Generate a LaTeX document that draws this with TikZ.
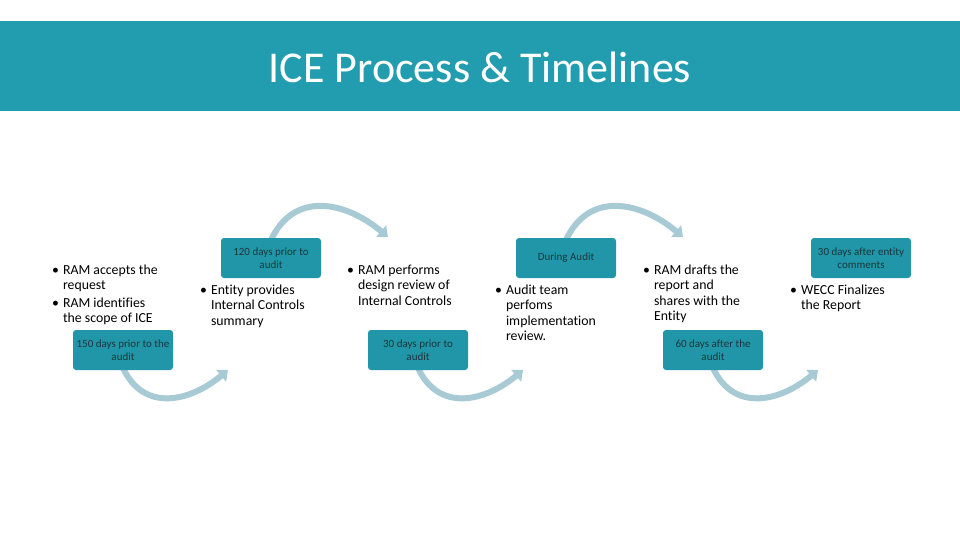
\documentclass[tikz,border=0pt]{standalone}
\usepackage{fontspec}
\setmainfont{Carlito}[Ligatures=NoCommon]
\usetikzlibrary{arrows.meta,backgrounds}
\definecolor{band}{RGB}{33,157,175}
\definecolor{boxfill}{RGB}{33,150,168}
\definecolor{boxtext}{RGB}{25,55,60}
\definecolor{arc}{RGB}{168,202,212}
\begin{document}
\begin{tikzpicture}[x=1pt,y=1pt,
    stage/.style={draw=none,fill=boxfill,rounded corners=3pt,minimum width=100pt,minimum height=40pt,
        inner sep=1pt,align=center,text=boxtext,font=\fontsize{11}{12.5}\selectfont},
    bullets/.style={anchor=north west,inner sep=0pt,font=\fontsize{13.8}{15.5}\selectfont},
    turn/.style={draw=arc,line width=6pt,-{Triangle[width=15pt,length=9pt]},looseness=1.2}]
    \useasboundingbox (0,0) rectangle (960,-540);
    \fill[band] (0,-21) rectangle (960,-111);
    \node[text=white,font=\fontsize{44}{50}\selectfont] (title) at (480,-67) {ICE Process \& Timelines};

    % arrow tips
    \coordinate (t1) at (228,-370);
    \coordinate (t2) at (388,-237);
    \coordinate (t3) at (523,-370);
    \coordinate (t4) at (683,-237);
    \coordinate (t5) at (818,-370);

    % stage boxes
    \node[stage] (d150) at (123,-350) {150 days prior to the\\audit};
    \node[stage] (d120) at (271,-258) {120 days prior to\\audit};
    \node[stage] (d30) at (418,-350) {30 days prior to\\audit};
    \node[stage] (during) at (566,-258) {During Audit};
    \node[stage] (d60) at (713,-350) {60 days after the\\audit};
    \node[stage] (after30) at (861,-258) {30 days after entity\\comments};

    % bullet texts
    \node[bullets] (s1) at (52,-263) {\begin{tabular}{@{}l@{\hspace{4pt}}l@{}}
        \textbullet & RAM accepts the\\ & request\\[2pt]
        \textbullet & RAM identifies\\ & the scope of ICE\end{tabular}};
    \node[bullets] (s2) at (200,-283) {\begin{tabular}{@{}l@{\hspace{4pt}}l@{}}
        \textbullet & Entity provides\\ & Internal Controls\\ & summary\end{tabular}};
    \node[bullets] (s3) at (347,-263) {\begin{tabular}{@{}l@{\hspace{4pt}}l@{}}
        \textbullet & RAM performs\\ & design review of\\ & Internal Controls\end{tabular}};
    \node[bullets] (s4) at (495,-283) {\begin{tabular}{@{}l@{\hspace{4pt}}l@{}}
        \textbullet & Audit team\\ & perfoms\\ & implementation\\ & review.\end{tabular}};
    \node[bullets] (s5) at (643,-263) {\begin{tabular}{@{}l@{\hspace{4pt}}l@{}}
        \textbullet & RAM drafts the\\ & report and\\ & shares with the\\ & Entity\end{tabular}};
    \node[bullets] (s6) at (790,-283) {\begin{tabular}{@{}l@{\hspace{4pt}}l@{}}
        \textbullet & WECC Finalizes\\ & the Report\end{tabular}};

    % curved arrows between stages, behind the boxes
    \begin{pgfonlayer}{background}
    \draw[turn] (d150.center) ++(0,-18) to[out=-65,in=-140] (t1);
    \draw[turn] (d120.center) ++(0,18) to[out=65,in=140] (t2);
    \draw[turn] (d30.center) ++(0,-18) to[out=-65,in=-140] (t3);
    \draw[turn] (during.center) ++(0,18) to[out=65,in=140] (t4);
    \draw[turn] (d60.center) ++(0,-18) to[out=-65,in=-140] (t5);
    \end{pgfonlayer}
\end{tikzpicture}
\end{document}
